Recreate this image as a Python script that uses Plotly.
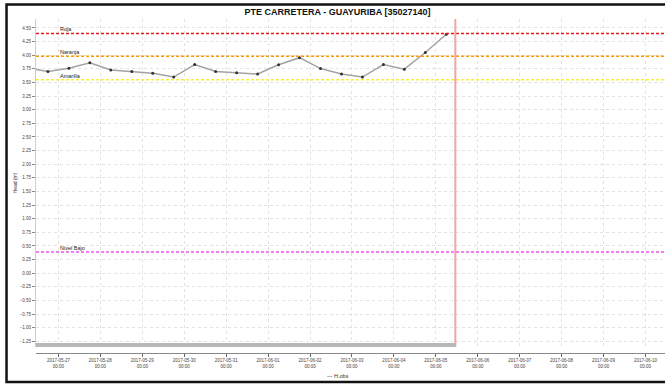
import plotly.graph_objects as go

# ---------------- data ----------------
obs_times = [
    "2017-05-26 06:00", "2017-05-26 18:00",
    "2017-05-27 06:00", "2017-05-27 18:00",
    "2017-05-28 06:00", "2017-05-28 18:00",
    "2017-05-29 06:00", "2017-05-29 18:00",
    "2017-05-30 06:00", "2017-05-30 18:00",
    "2017-05-31 06:00", "2017-05-31 18:00",
    "2017-06-01 06:00", "2017-06-01 18:00",
    "2017-06-02 06:00", "2017-06-02 18:00",
    "2017-06-03 06:00", "2017-06-03 18:00",
    "2017-06-04 06:00", "2017-06-04 18:00",
    "2017-06-05 06:00",
]
obs_values = [
    3.77, 3.70,
    3.76, 3.86,
    3.73, 3.70,
    3.67, 3.60,
    3.83, 3.70,
    3.68, 3.655,
    3.825, 3.955,
    3.755, 3.655,
    3.60, 3.83,
    3.745, 4.05,
    4.385,
]

threshold_names = ["Roja", "Naranja", "Amarilla", "Nivel Bajo"]
threshold_values = [4.40, 3.98, 3.55, 0.39]
threshold_colors = ["#e41a1a", "#ff9900", "#f5f03a", "#ee55ee"]

now_time = "2017-06-05 11:10"
x_range = ["2017-05-26 11:10", "2017-06-10 11:10"]
y_range = [-1.355, 4.665]
label_time = "2017-05-27 00:00"

title_text = "PTE CARRETERA - GUAYURIBA [35027140]"
y_title = "Head (m)"
legend_name = "H.obs"

# ---------------- layout geometry ----------------
W, H = 665, 384
ML, MR, MT, MB = 35.5, 0, 19, 31
PW, PH = W - ML - MR, H - MT - MB
plot_bottom_px = 347
ydom0 = (H - MB - plot_bottom_px) / PH


def px_x(x):
    return (x - ML) / PW


def px_y(y):
    return (H - MB - y) / PH


fig = go.Figure()

fig.add_trace(go.Scatter(
    x=obs_times, y=obs_values, mode="lines+markers",
    line=dict(color="#a3a3a3", width=1.5),
    marker=dict(color="#333333", size=3),
    showlegend=False, name=legend_name,
))

shapes = []
annotations = []
for name, val, col in zip(threshold_names, threshold_values, threshold_colors):
    shapes.append(dict(type="line", xref="x domain", yref="y", x0=0, x1=1,
                       y0=val, y1=val, line=dict(color=col, width=1.5, dash="3px,2px")))
    annotations.append(dict(x=label_time, y=val, xref="x", yref="y", text=name,
                            showarrow=False, xanchor="left", yanchor="bottom",
                            yshift=-1, font=dict(size=5.5, color="#222222",
                                                 family="Liberation Sans")))

# now line
shapes.append(dict(type="line", xref="x", yref="y domain", x0=now_time, x1=now_time,
                   y0=0, y1=1, line=dict(color="#f5a3a3", width=2)))
# grey band at bottom
shapes.append(dict(type="rect", xref="x", yref="y domain", x0=x_range[0], x1=now_time,
                   y0=0, y1=4 / (PH * (1 - ydom0)), fillcolor="#b8b8b8",
                   line=dict(width=0), layer="above"))
# outer black frame
shapes.append(dict(type="rect", xref="paper", yref="paper",
                   x0=px_x(6), x1=px_x(672), y0=px_y(382), y1=px_y(4.5),
                   line=dict(color="#111111", width=2.5)))

# legend (short line sample + series name)
annotations.append(dict(xref="paper", yref="paper", x=px_x(338), y=px_y(376),
                        xanchor="center", yanchor="middle", showarrow=False,
                        text="<span style='color:#444444'>—</span> " + legend_name,
                        font=dict(size=5.5, color="#333333", family="Liberation Sans")))

fig.update_layout(
    width=W, height=H,
    margin=dict(l=ML, r=MR, t=MT, b=MB),
    paper_bgcolor="white", plot_bgcolor="white",
    font=dict(family="Liberation Sans", color="#333333"),
    title=dict(text="<b>" + title_text + "</b>", x=337.5 / W, xanchor="center",
               y=1 - 12 / H, yanchor="middle",
               font=dict(size=9, color="#111111", family="Liberation Sans")),
    shapes=shapes, annotations=annotations,
    showlegend=False,
)

fig.update_xaxes(
    type="date", range=x_range, anchor="free", position=0,
    dtick=86400000, tick0="2017-05-27", tickformat="%Y-%m-%d<br>%H:%M",
    tickfont=dict(size=4.5, color="#444444"),
    ticks="outside", ticklen=3, tickcolor="#666666",
    showline=True, linecolor="#888888", linewidth=1,
    showgrid=True, gridcolor="#e2e2e2", griddash="dot", gridwidth=1,
    zeroline=False,
)
fig.update_yaxes(
    domain=[ydom0, 1], range=y_range,
    dtick=0.25, tick0=0, tickformat=".2f",
    tickfont=dict(size=4.5, color="#444444"),
    ticks="outside", ticklen=3, tickcolor="#888888",
    showline=True, linecolor="#cccccc", linewidth=1, mirror=True,
    showgrid=True, gridcolor="#e2e2e2", griddash="dot", gridwidth=1,
    zeroline=False,
    title=dict(text=y_title, font=dict(size=5, color="#333333"), standoff=1),
)

fig.write_html("out.html", config={"displayModeBar": False},
               post_script="document.body.style.margin='0';document.body.style.overflow='hidden';")
